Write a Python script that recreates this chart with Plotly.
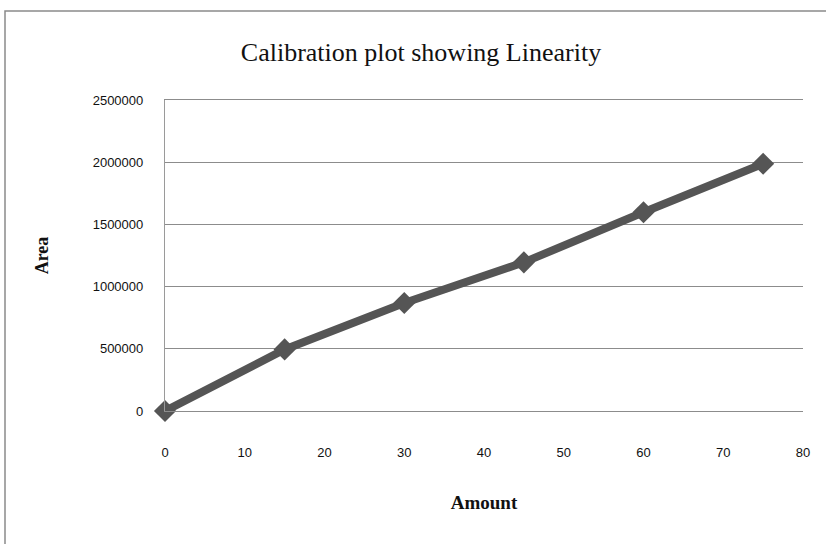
import plotly.graph_objects as go

# Calibration data: amount injected vs. detector peak area
amount = [0, 15, 30, 45, 60, 75]
area = [0, 495000, 868000, 1195000, 1598000, 1988000]

x_ticks = [0, 10, 20, 30, 40, 50, 60, 70, 80]
y_ticks = [0, 500000, 1000000, 1500000, 2000000, 2500000]

W, H = 826, 544
L, R, T, B = 165, 23, 100, 133
plot_w = W - L - R
plot_h = H - T - B

TICK_FONT = dict(family="Liberation Sans, Arial, sans-serif", size=13, color="#111111")
SERIF = "Liberation Serif, Times New Roman, serif"
GRID = "#8c8c8c"

fig = go.Figure()
fig.add_trace(go.Scatter(
    x=amount, y=area,
    mode="lines+markers",
    line=dict(color="#555555", width=8),
    marker=dict(symbol="diamond", size=17, color="#555555"),
    showlegend=False,
    cliponaxis=False,
))


def px_to_paper_x(px):
    return (px - L) / plot_w


def px_to_paper_y(py):
    return (H - B - py) / plot_h


fig.update_layout(
    width=W, height=H,
    margin=dict(l=L, r=R, t=T, b=B),
    paper_bgcolor="white",
    plot_bgcolor="white",
    title=dict(
        text="Calibration plot showing Linearity",
        font=dict(family=SERIF, size=26, color="#111111"),
        x=421 / W, xanchor="center", xref="container",
        y=1 - 52 / H, yanchor="middle", yref="container",
    ),
    xaxis=dict(
        range=[0, 80], tickvals=x_ticks,
        showgrid=False, zeroline=False,
        # bottom and top lines double as the 0 and 2500000 gridlines
        showline=True, mirror=True, linecolor=GRID, linewidth=1.2,
        ticks="", ticklabelstandoff=29,
        tickfont=TICK_FONT,
        title=dict(text="<b>Amount</b>", standoff=36,
                   font=dict(family=SERIF, size=19, color="#111111")),
        fixedrange=True,
    ),
    yaxis=dict(
        range=[0, 2500000], tickvals=y_ticks,
        tickformat="d",
        showgrid=True, gridcolor=GRID, gridwidth=1.2,
        zeroline=False,
        showline=True, linecolor="#9a9a9a", linewidth=1.2,
        ticks="", ticklabelstandoff=18,
        tickfont=TICK_FONT,
        title=dict(text="<b>Area</b>", standoff=39,
                   font=dict(family=SERIF, size=18, color="#111111")),
        fixedrange=True,
    ),
    shapes=[
        # outer chart frame
        dict(type="rect", xref="paper", yref="paper",
             x0=px_to_paper_x(5), x1=px_to_paper_x(840),
             y0=px_to_paper_y(560), y1=px_to_paper_y(11),
             line=dict(color="#8a8a8a", width=1.5), layer="below"),
    ],
)

fig.write_html("out.html")
